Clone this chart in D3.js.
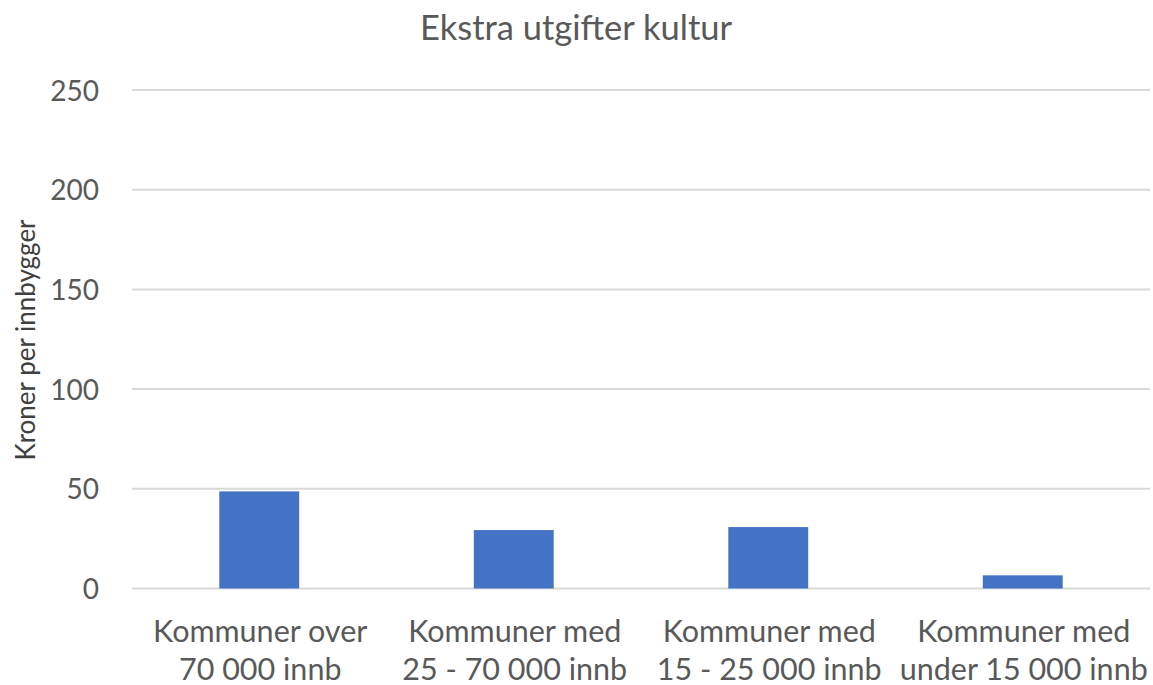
<!DOCTYPE html>
<html><head><meta charset="utf-8">
<script src="https://cdn.jsdelivr.net/npm/d3@7"></script>
<style>body{margin:0;background:#fff;}svg{display:block;}</style>
</head><body>
<script>
const title = "Ekstra utgifter kultur";
const yLabel = "Kroner per innbygger";
const categories = [
  ["Kommuner over", "70 000 innb"],
  ["Kommuner med", "25 - 70 000 innb"],
  ["Kommuner med", "15 - 25 000 innb"],
  ["Kommuner med", "under 15 000 innb"]
];
const values = [48.7, 29.3, 30.8, 6.6];
const yTicks = [0, 50, 100, 150, 200, 250];

const W = 1153, H = 685;
const font = "Lato, 'Open Sans', sans-serif";
const textColor = "#595959";
const svg = d3.select("body").append("svg").attr("width", W).attr("height", H);

const x = d3.scaleBand().domain(d3.range(categories.length)).range([132, 1150]).paddingInner(0.686).paddingOuter(0.343);
const y = d3.scaleLinear().domain([0, 250]).range([588.5, 90]);

// gridlines
svg.append("g").selectAll("line").data(yTicks).join("line")
  .attr("x1", 132).attr("x2", 1150)
  .attr("y1", d => y(d)).attr("y2", d => y(d))
  .attr("stroke", "#d9d9d9").attr("stroke-width", 2);

// y axis labels
const yAxis = d3.axisLeft(y).tickValues(yTicks).tickSize(0).tickPadding(0);
const ga = svg.append("g").attr("transform", "translate(99,0)").call(yAxis);
ga.select(".domain").remove();
ga.selectAll("text").attr("font-family", font).attr("font-size", 28).attr("fill", textColor).attr("dy", "0.36em");

// bars
svg.append("g").selectAll("rect").data(values).join("rect")
  .attr("x", (d, i) => x(i)).attr("width", x.bandwidth())
  .attr("y", d => y(d)).attr("height", d => y(0) - y(d))
  .attr("fill", "#4472C4");

// x labels
const xl = svg.append("g").selectAll("text").data(categories).join("text")
  .attr("x", (d, i) => x(i) + x.bandwidth() / 2 + 1)
  .attr("text-anchor", "middle")
  .attr("font-family", font).attr("font-size", 30.5).attr("fill", textColor);
xl.selectAll("tspan").data(d => d).join("tspan")
  .attr("x", function() { return this.parentNode.getAttribute("x"); })
  .attr("y", (d, j) => 642 + j * 38)
  .text(d => d);

// title
svg.append("text").attr("x", 576).attr("y", 40).attr("text-anchor", "middle")
  .attr("font-family", font).attr("font-size", 34.5).attr("fill", textColor).text(title);

// y label
svg.append("text").attr("transform", "translate(35,340) rotate(-90)").attr("text-anchor", "middle")
  .attr("font-family", font).attr("font-size", 26).attr("fill", "#404040").text(yLabel);
</script>
</body></html>
